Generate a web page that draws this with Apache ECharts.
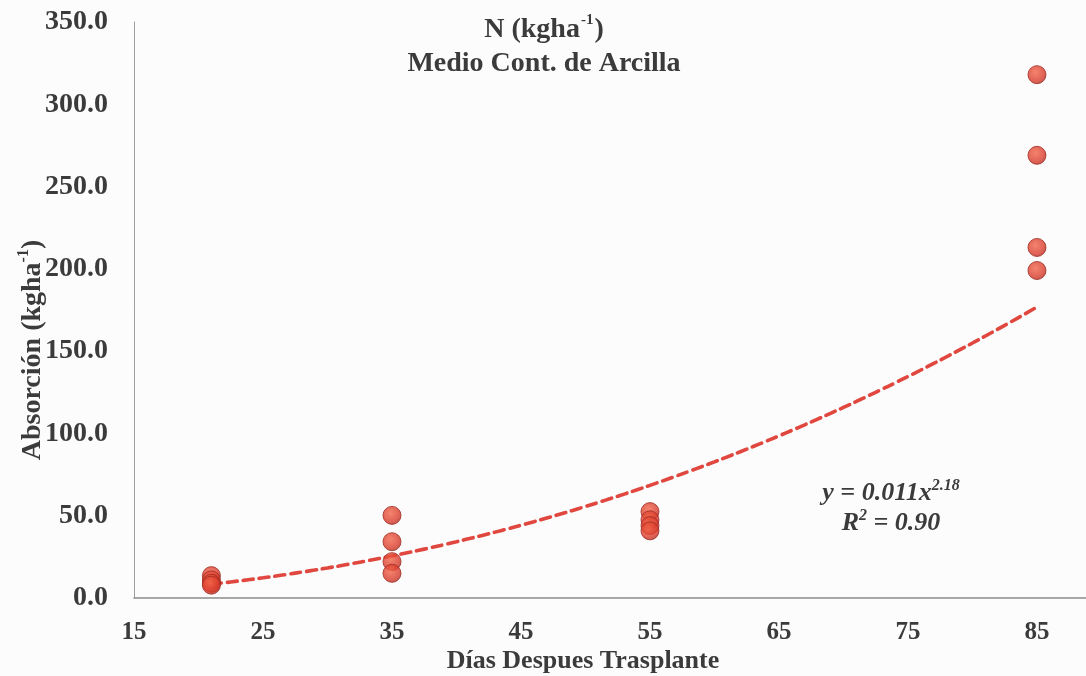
<!DOCTYPE html>
<html>
<head>
<meta charset="utf-8">
<title>N (kgha-1) Medio Cont. de Arcilla</title>
<script src="https://cdn.jsdelivr.net/npm/echarts@6/dist/echarts.min.js"></script>
<style>
  html, body { margin: 0; padding: 0; background: #fcfcfc; }
  #chart { width: 1086px; height: 676px; }
</style>
</head>
<body>
<div id="chart"></div>
<script>
// Sampling day (days after transplant) for each observation
const sampleDays = [21, 21, 21, 21, 35, 35, 35, 35, 55, 55, 55, 55, 85, 85, 85, 85];
// N uptake (kg ha-1) for each observation
const uptakeN = [13.6, 11.0, 9.0, 7.8, 50.2, 34.2, 22.1, 15.0, 52.5, 47.5, 44.0, 40.8, 318.0, 269.0, 213.0, 199.0];

// Power trend line y = a * x^b, R² as reported
const trendA = 0.011;
const trendB = 2.18;
const trendR2 = 0.90;
const trendFrom = 21;
const trendTo = 85;

// Axis tick settings
const xTicks = { min: 15, max: 88.8, step: 10 };
const yTicks = { min: 0, max: 350, step: 50 };

const SERIF = '"Liberation Serif", "Times New Roman", "DejaVu Serif", serif';
const INK = '#3b3b3b';

const trendPoints = [];
for (let d = trendFrom; d <= trendTo; d += 1) {
  trendPoints.push([d, trendA * Math.pow(d, trendB)]);
}
const points = sampleDays.map((d, i) => [d, uptakeN[i]]);

const chart = echarts.init(document.getElementById('chart'), null, { renderer: 'canvas' });

const eqRich = {
  e: { fontFamily: SERIF, fontWeight: 'bold', fontStyle: 'italic', fontSize: 26, fill: INK, lineHeight: 30 },
  p: { fontFamily: SERIF, fontWeight: 'bold', fontStyle: 'italic', fontSize: 16, fill: INK, lineHeight: 30, verticalAlign: 'top' }
};

chart.setOption({
  backgroundColor: '#fcfcfc',
  animation: false,
  title: {
    left: 539,
    top: 8,
    textAlign: 'center',
    text: '{t|N (kgha}{s|-1}{t|)}\n{t|Medio Cont. de Arcilla}',
    textStyle: {
      rich: {
        t: { fontFamily: SERIF, fontWeight: 'bold', fontSize: 28, color: INK, lineHeight: 34 },
        s: { fontFamily: SERIF, fontWeight: 'bold', fontSize: 15, color: INK, lineHeight: 34, verticalAlign: 'top', padding: [0, 1, 0, 1] }
      }
    }
  },
  grid: { left: 134, right: 0, top: 22, bottom: 78, outerBoundsMode: 'none', containLabel: false },
  xAxis: {
    type: 'value',
    min: xTicks.min,
    max: xTicks.max,
    interval: xTicks.step,
    name: 'Días Despues Trasplante',
    nameLocation: 'middle',
    nameGap: 50,
    nameMoveOverlap: false,
    nameTextStyle: { fontFamily: SERIF, fontWeight: 'bold', fontSize: 26, color: INK, padding: [0, 0, 0, -54] },
    axisLine: { show: true, onZero: false, lineStyle: { color: '#8a8a8a', width: 1.5 } },
    axisTick: { show: false },
    splitLine: { show: false },
    axisLabel: {
      showMaxLabel: false,
      margin: 22,
      fontFamily: SERIF, fontWeight: 'bold', fontSize: 25, color: INK,
      formatter: v => ((v - xTicks.min) % xTicks.step === 0 ? String(v) : '')
    }
  },
  yAxis: {
    type: 'value',
    min: yTicks.min,
    max: yTicks.max,
    interval: yTicks.step,
    name: '{t|Absorción (kgha}{s|-1}{t|)}',
    nameLocation: 'middle',
    nameGap: 84,
    nameRotate: 90,
    nameMoveOverlap: false,
    nameTextStyle: {
      padding: [0, 80, 0, 0],
      rich: {
        t: { fontFamily: SERIF, fontWeight: 'bold', fontSize: 28, color: INK, lineHeight: 34 },
        s: { fontFamily: SERIF, fontWeight: 'bold', fontSize: 16, color: INK, lineHeight: 34, verticalAlign: 'top' }
      }
    },
    axisLine: { show: true, lineStyle: { color: '#a0a0a0', width: 1 } },
    axisTick: { show: false },
    splitLine: { show: false },
    axisLabel: {
      margin: 26,
      fontFamily: SERIF, fontWeight: 'bold', fontSize: 28, color: INK,
      formatter: v => v.toFixed(1)
    }
  },
  series: [
    {
      name: 'Tendencia potencial',
      type: 'line',
      data: trendPoints,
      showSymbol: false,
      smooth: true,
      z: 2,
      lineStyle: { color: '#e0473f', width: 3.6, type: [10, 6], cap: 'round' }
    },
    {
      name: 'Absorción N',
      type: 'scatter',
      data: points,
      symbol: 'circle',
      symbolSize: 18,
      z: 3,
      itemStyle: {
        color: new echarts.graphic.RadialGradient(0.42, 0.38, 0.65, [
          { offset: 0, color: '#f2654a' },
          { offset: 0.7, color: '#d93c2c' },
          { offset: 1, color: '#ad2c22' }
        ]),
        borderColor: '#9e2a22',
        borderWidth: 1
      }
    }
  ],
  graphic: [
    {
      type: 'text',
      x: 891,
      y: 478,
      style: {
        text: '{e|y = ' + trendA.toFixed(3) + 'x}{p|' + trendB.toFixed(2) + '}',
        align: 'center',
        rich: eqRich
      }
    },
    {
      type: 'text',
      x: 891,
      y: 508,
      style: {
        text: '{e|R}{p|2}{e| = ' + trendR2.toFixed(2) + '}',
        align: 'center',
        rich: eqRich
      }
    }
  ]
});
</script>
</body>
</html>
